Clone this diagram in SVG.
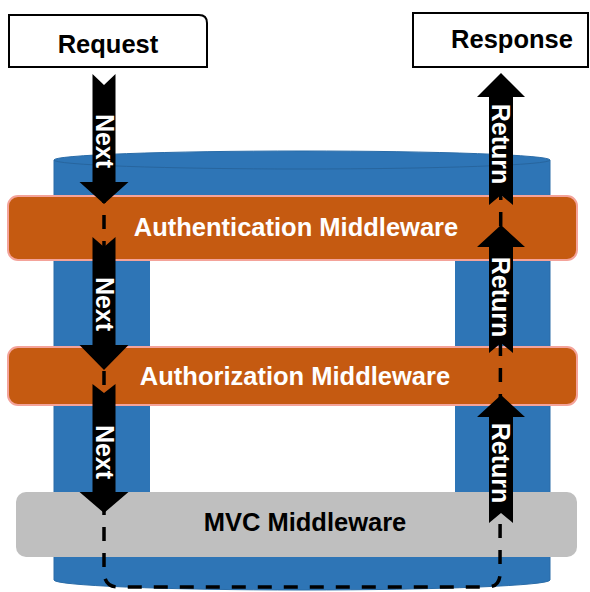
<svg xmlns="http://www.w3.org/2000/svg" width="590" height="592" viewBox="0 0 590 592">
<style>
.lbl{font-family:"Liberation Sans",Arial,sans-serif;font-weight:bold;font-size:25.5px;text-anchor:middle}
.w{fill:#ffffff}
.k{fill:#000000}
.mid{fill:#C55A11;stroke:#F4A39A;stroke-width:2}
.arr{fill:#000000}
.alb{font-family:"Liberation Sans",Arial,sans-serif;font-weight:bold;font-size:25px;text-anchor:middle;fill:#ffffff}
</style>
<rect width="590" height="592" fill="#ffffff"/>
<g id="pipeline">
<path d="M54,160 A248,9 0 0 1 550,160 L550,580 A248,10 0 0 1 54,580 Z" fill="#2E75B6" stroke="#2A6CA8" stroke-width="1"/>
<path d="M54,160 A248,9 0 0 0 550,160" fill="none" stroke="#27659E" stroke-width="1"/>
<rect x="150" y="255" width="305" height="240" fill="#ffffff"/>
</g>
<g id="request">
<path d="M9,15 L199,15 Q207,15 207,23 L207,67 L9,67 Z" fill="#ffffff" stroke="#000" stroke-width="2"/>
<text class="lbl k" x="108" y="53">Request</text>
</g>
<g id="response">
<rect x="413" y="13" width="175" height="54" fill="#ffffff" stroke="#000" stroke-width="2"/>
<text class="lbl k" x="512" y="48">Response</text>
</g>
<g id="auth">
<rect class="mid" x="8" y="196" width="569" height="64" rx="10"/>
<text class="lbl w" x="296" y="236">Authentication Middleware</text>
</g>
<g id="authz">
<rect class="mid" x="8" y="347" width="569" height="58" rx="10"/>
<text class="lbl w" x="295" y="385">Authorization Middleware</text>
</g>
<g id="mvc">
<rect x="16" y="492" width="561" height="65" rx="10" fill="#BFBFBF"/>
<text class="lbl k" x="305" y="531">MVC Middleware</text>
</g>
<g id="connectors">
<path d="M104,85 L104,573 Q105,587 118,587 L487,587 Q499,587 500,575 L501,73" fill="none" stroke="#000" stroke-width="3.5" stroke-dasharray="14 12"/>
<polygon class="arr" points="92.5,74 104,85 115.5,74 115.5,182 128.5,182 104,204 79.5,182 92.5,182"/>
<polygon class="arr" points="92.5,237 104,247 115.5,237 115.5,345 128.5,345 104,370 79.5,345 92.5,345"/>
<polygon class="arr" points="92.5,384 104,393 115.5,384 115.5,492 128.5,492 104,513 79.5,492 92.5,492"/>
<polygon class="arr" points="489,523 501,513 513,523 513,417 525,417 501,395 477,417 489,417"/>
<polygon class="arr" points="489,353 501,343 513,353 513,247 525,247 501,225 477,247 489,247"/>
<polygon class="arr" points="489,205 501,195 513,205 513,97 525,97 501,73 477,97 489,97"/>
<text class="alb" transform="translate(105,141) rotate(90)" x="0" y="9">Next</text>
<text class="alb" transform="translate(105,304) rotate(90)" x="0" y="9">Next</text>
<text class="alb" transform="translate(105,452) rotate(90)" x="0" y="9">Next</text>
<text class="alb" transform="translate(501,144) rotate(90)" x="0" y="9">Return</text>
<text class="alb" transform="translate(501,297) rotate(90)" x="0" y="9">Return</text>
<text class="alb" transform="translate(501,463) rotate(90)" x="0" y="9">Return</text>
</g>
</svg>
